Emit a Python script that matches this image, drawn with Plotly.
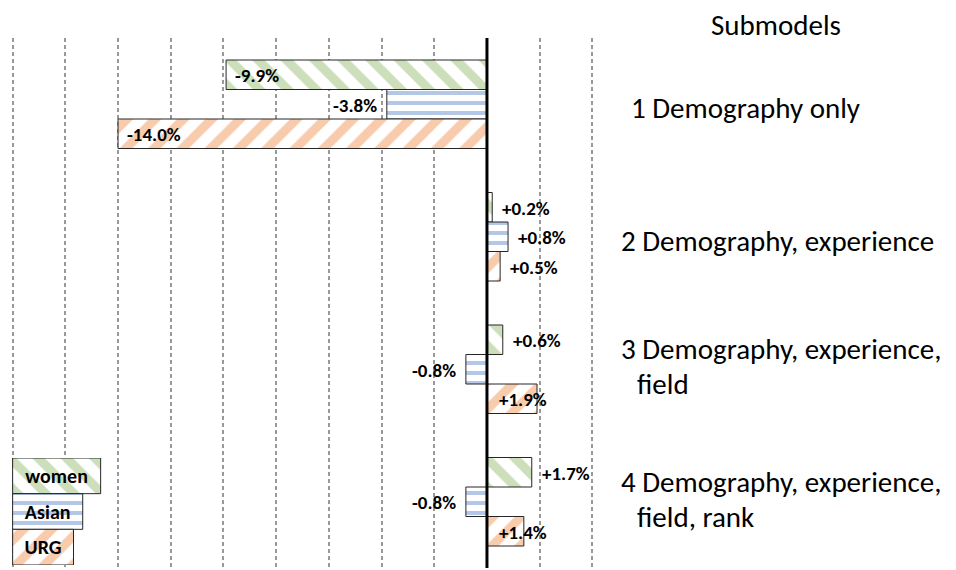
import plotly.graph_objects as go

# ---------------- data ----------------
submodels = ["1 Demography only",
             "2 Demography, experience",
             "3 Demography, experience,<br>field",
             "4 Demography, experience,<br>field, rank"]
series_names = ["women", "Asian", "URG"]
women = [-9.9, 0.2, 0.6, 1.7]
asian = [-3.8, 0.8, -0.8, -0.8]
urg = [-14.0, 0.5, 1.9, 1.4]
header = "Submodels"

# ---------------- style ----------------
FONT = "Carlito, Calibri, Lato, sans-serif"
colors = ["#CCDFBA", "#B4C7E7", "#F8CBAD"]
shapes_pat = ["\\", "-", "/"]
pat_size = [20, 10, 20]
pat_sol = [0.45, 0.4, 0.45]
# label placement per series/point: out / in_end / in_start
label_mode = [["in_end", "out", "out", "out"],
              ["out", "out", "out", "out"],
              ["in_end", "out", "in_start", "in_start"]]
legend_len = [3.34, 2.66, 2.31]
label_x_px = [630, 620, 620, 620]
indent_px = 16
X0, X1 = -18.1, 4.1
PXU = 26.36                     # pixels per percentage point
W, H = 956, 570
L = 12.2 - (-18 - X0) * PXU
PW = (X1 - X0) * PXU
R = W - L - PW
T, B = 38, 2
PH = H - T - B
BARGAP = 0.332
LAB_SIZE = 19
CAT_SIZE = 29

values = [women, asian, urg]
cats = list(range(len(submodels)))


def bar_marker(j):
    return dict(color="white",
                line=dict(color="#262626", width=1),
                pattern=dict(shape=shapes_pat[j], fgcolor=colors[j],
                             bgcolor="white", size=pat_size[j],
                             solidity=pat_sol[j], fillmode="replace"))


fig = go.Figure()
for j, (name, vals) in enumerate(zip(series_names, values)):
    fig.add_trace(go.Bar(
        x=vals, y=cats, orientation="h", name=name,
        marker=bar_marker(j), showlegend=False, hoverinfo="skip",
    ))

# legend boxes (bottom-left), drawn as bars on a second y axis
for j, name in enumerate(series_names):
    fig.add_trace(go.Bar(
        x=[legend_len[j]], base=[-18], y=[j], orientation="h",
        width=[1], offset=[-0.5], yaxis="y2",
        text=[f"<b>{name}</b>"], textposition="inside",
        insidetextanchor="middle", constraintext="none",
        insidetextfont=dict(family=FONT, size=20, color="black"),
        marker=bar_marker(j), showlegend=False, hoverinfo="skip",
    ))

annotations = []
barw = (1 - BARGAP) / len(series_names)
for j, vals in enumerate(values):
    for i, v in enumerate(vals):
        txt = f"<b>{v:+.1f}%</b>"
        mode = label_mode[j][i]
        yy = i + (j - 1) * barw
        if mode == "out":
            if v >= 0:
                a = dict(x=v, xanchor="left", xshift=8)
            else:
                a = dict(x=v, xanchor="right", xshift=-8)
        elif mode == "in_end":
            a = dict(x=v, xanchor="left", xshift=7)
        else:
            a = dict(x=0, xanchor="left", xshift=10)
        a.update(y=yy, xref="x", yref="y", text=txt, showarrow=False,
                 yanchor="middle", yshift=-1,
                 font=dict(family=FONT, size=LAB_SIZE, color="black"))
        annotations.append(a)

for i, lab in enumerate(submodels):
    lines = lab.split("<br>")
    if len(lines) == 1:
        shifts, xs = [-4], [0]
    else:
        shifts, xs = [20, -15], [0, indent_px]
    for line, ys, xo in zip(lines, shifts, xs):
        annotations.append(dict(
            x=(label_x_px[i] + xo - L) / PW, xref="paper", y=i, yref="y",
            yshift=ys, text=line, showarrow=False, xanchor="left",
            yanchor="middle", align="left", borderpad=0,
            font=dict(family=FONT, size=CAT_SIZE, color="black")))

annotations.append(dict(
    x=(776 - L) / PW, xref="paper", y=(H - B - 25) / PH, yref="paper",
    text=header, showarrow=False, xanchor="center", yanchor="middle",
    font=dict(family=FONT, size=CAT_SIZE, color="black")))

fig.update_layout(
    width=W, height=H,
    margin=dict(l=L, r=R, t=T, b=B, pad=0),
    paper_bgcolor="white", plot_bgcolor="rgba(0,0,0,0)",
    barmode="group", bargap=BARGAP, bargroupgap=0,
    xaxis=dict(range=[X0, X1], dtick=2, tick0=0, showgrid=True,
               gridcolor="#999999", gridwidth=1.5, griddash="4px,3px",
               showticklabels=False, ticks="", zeroline=False,
               showline=False, fixedrange=True),
    yaxis=dict(range=[len(submodels) - 0.5, -0.5], showgrid=False,
               showticklabels=False, ticks="", zeroline=False,
               showline=False, fixedrange=True),
    yaxis2=dict(domain=[(H - B - 565) / PH, (H - B - 458) / PH],
                anchor="x", range=[2.5, -0.5],
                showgrid=False, showticklabels=False, ticks="",
                zeroline=False, showline=False, fixedrange=True),
    annotations=annotations,
    shapes=[dict(type="line", xref="x", yref="paper", x0=0, x1=0,
                 y0=0, y1=1, line=dict(color="black", width=3),
                 layer="above")],
    font=dict(family=FONT),
)

fig.write_html("out.html",
               config={"displayModeBar": False},
               post_script="document.body.style.margin='0';"
                           "document.body.style.overflow='hidden';")
